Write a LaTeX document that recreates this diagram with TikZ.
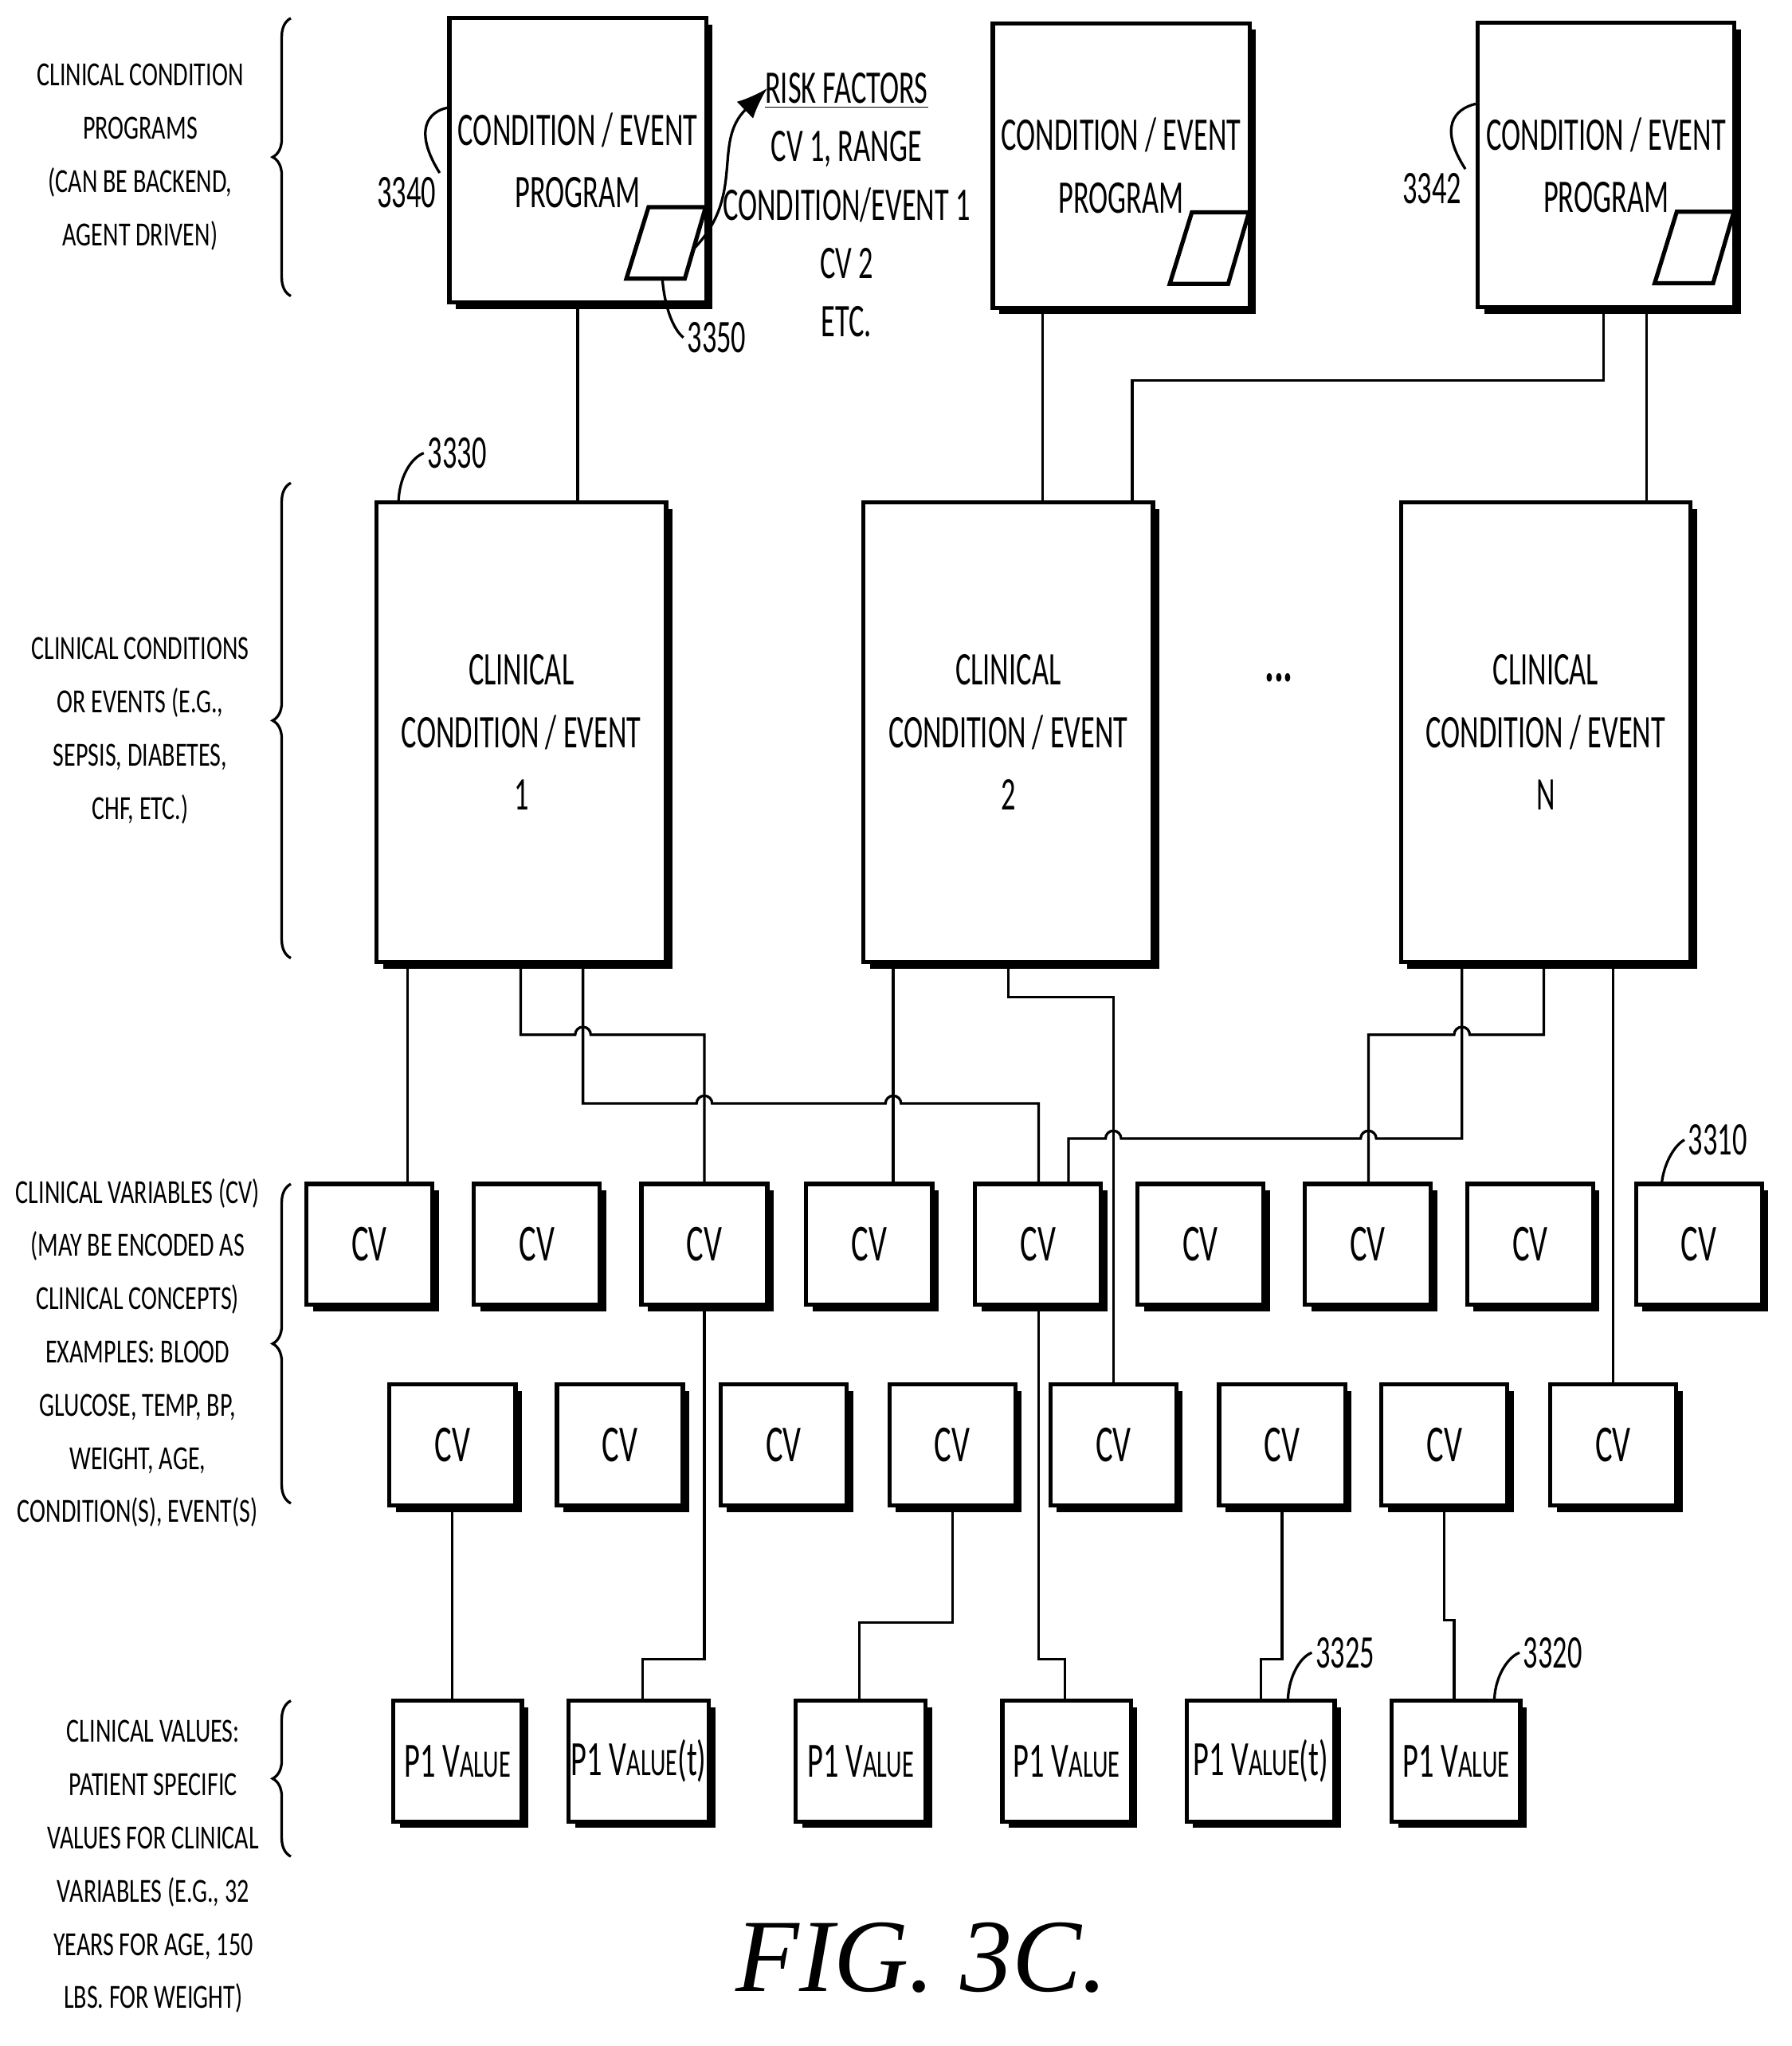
\documentclass[tikz,border=0pt]{standalone}
\usepackage{fontspec}
\setmainfont{Carlito}[FakeStretch=0.62]
\newfontfamily\lblfont{Carlito}[FakeStretch=0.71]
\newfontfamily\figfont{Liberation Serif}
\usetikzlibrary{arrows.meta}
\usetikzlibrary{positioning}
\usetikzlibrary{shadows}
\usetikzlibrary{decorations.pathreplacing}

\begin{document}
\begin{tikzpicture}[x=0.5pt,y=-0.5pt,line width=1pt,
		blk/.style={draw,line width=1.6pt,fill=white,align=center,
			drop shadow={shadow xshift=2.5pt,shadow yshift=-2.5pt,opacity=1,fill=black}},
		prog/.style={blk,minimum width=98pt,minimum height=109.5pt,font=\fontsize{18}{24}\selectfont},
		clin/.style={blk,minimum width=111.5pt,minimum height=177pt,font=\fontsize{18}{24}\selectfont},
		cv/.style={blk,minimum width=48.5pt,minimum height=46.5pt,font=\fontsize{20}{22}\selectfont},
		val/.style={blk,minimum height=46.5pt,inner sep=1pt,font=\fontsize{19}{22}\selectfont},
		side/.style={align=center,font=\lblfont\fontsize{13}{20.5}\selectfont},
		refnum/.style={font=\fontsize{18}{20}\selectfont,inner sep=1pt},
		lead/.style={line width=1pt},
		curly/.style={decorate,decoration={brace,amplitude=7pt},line width=1pt}]
		\useasboundingbox (0,0) rectangle (1380,1576);
		
		% Condition / event programs
		\node[prog] (prog1) at (445,123.5) {CONDITION / EVENT\\PROGRAM};
		\node[prog] (prog2) at (863.5,127.5) {CONDITION / EVENT\\PROGRAM};
		\node[prog] (prog3) at (1237,127) {CONDITION / EVENT\\PROGRAM};
		\foreach \p in {prog1,prog2,prog3}
		\draw[line width=1.6pt,fill=white,shift={(\p.south east)}] (-63,-20) -- (-46,-75) -- (-2,-75) -- (-18,-20) -- cycle;
		
		% Clinical conditions
		\node[clin] (c1) at (401.5,564) {CLINICAL\\CONDITION / EVENT\\1};
		\node[clin] (c2) at (776.5,564) {CLINICAL\\CONDITION / EVENT\\2};
		\node[clin] (cn) at (1190.5,564) {CLINICAL\\CONDITION / EVENT\\N};
		\node[font=\fontsize{22}{22}\selectfont\bfseries] (dots) at (985,522) {...};
		
		% Clinical variables
		\foreach \x [count=\i] in {284.5,413.5,542.5,669.5,799.5,924.5,1053.5,1178.5,1308.5}
		\node[cv] (cva\i) at (\x,958.5) {CV};
		\foreach \x [count=\i] in {348.5,477.5,603.5,733.5,857.5,987.5,1112.5,1242.5}
		\node[cv] (cvb\i) at (\x,1113) {CV};
		
		% Clinical values
		\node[val,minimum width=49.5pt] (v1) at (352.5,1356.5) {P1 V{\fontsize{15}{20}\selectfont ALUE}};
		\node[val,minimum width=54pt] (v2) at (492,1356.5) {P1 V{\fontsize{15}{20}\selectfont ALUE}(t)};
		\node[val,minimum width=50pt] (v3) at (663,1356.5) {P1 V{\fontsize{15}{20}\selectfont ALUE}};
		\node[val,minimum width=49.5pt] (v4) at (821.5,1356.5) {P1 V{\fontsize{15}{20}\selectfont ALUE}};
		\node[val,minimum width=57pt] (v5) at (971,1356.5) {P1 V{\fontsize{15}{20}\selectfont ALUE}(t)};
		\node[val,minimum width=49.5pt] (v6) at (1121.5,1356.5) {P1 V{\fontsize{15}{20}\selectfont ALUE}};
		
		% programs to conditions
		\draw (prog1.south) -- (c1.north -| prog1.south);
		\draw (prog2.south -| 803,0) -- (c2.north -| 803,0);
		\draw (prog3.south -| 1235,0) -- (1235,293) -- (872,293) -- (c2.north -| 872,0);
		\draw (prog3.south -| 1268,0) -- (cn.north -| 1268,0);
		
		% conditions to variables
		\draw (c1.south -| 314,0) -- (cva1.north -| 314,0);
		\draw (c1.south -| 401,0) -- (401,797) -- (443,797) arc[start angle=180,end angle=360,radius=6] -- (542.5,797) -- (cva3.north);
		\draw (c1.south -| 449,0) -- (449,850) -- (536.5,850) arc[start angle=180,end angle=360,radius=6] -- (682,850) arc[start angle=180,end angle=360,radius=6] -- (800,850) -- (cva5.north -| 800,0);
		\draw (c2.south -| 688,0) -- (cva4.north -| 688,0);
		\draw (c2.south) -- (776.5,768) -- (857.5,768) -- (cvb5.north);
		\draw (cn.south -| 1189,0) -- (1189,797) -- (1132,797) arc[start angle=0,end angle=-180,radius=6] -- (1054,797) -- (cva7.north -| 1054,0);
		\draw (cn.south -| 1126,0) -- (1126,877) -- (1060,877) arc[start angle=0,end angle=-180,radius=6] -- (863.5,877) arc[start angle=0,end angle=-180,radius=6] -- (823,877) -- (cva5.north -| 823,0);
		\draw (cn.south -| 1242.5,0) -- (cvb8.north);
		
		% variables to values
		\draw (cva3.south) -- (542.5,1278) -- (495,1278) -- (v2.north -| 495,0);
		\draw (cva5.south -| 800,0) -- (800,1278) -- (820,1278) -- (v4.north -| 820,0);
		\draw (cvb1.south) -- (v1.north -| cvb1.south);
		\draw (cvb4.south) -- (733.5,1250) -- (662,1250) -- (v3.north -| 662,0);
		\draw (cvb6.south) -- (987.5,1278) -- (971,1278) -- (v5.north);
		\draw (cvb7.south) -- (1112.5,1248) -- (1120,1248) -- (v6.north -| 1120,0);
		
		% risk factors
		\node[align=center,font=\fontsize{18}{22.5}\selectfont] (risk) at (652,158) {\underline{RISK FACTORS}\\CV 1, RANGE\\CONDITION/EVENT 1\\CV 2\\ETC.};
		\coordinate (tag) at (534,192);
		\draw[-{Latex[length=12pt,width=9pt]}] (tag) .. controls (575,150) and (548,110) .. (591,68);
		
		% reference numbers
		\node[refnum] (n3340) at (313,148) {3340};
		\draw[lead] (n3340.north east) .. controls (318,100) and (330,86) .. (prog1.west |- 0,83);
		\node[refnum] (n3350) at (552,260) {3350};
		\draw[lead] (n3350.west) .. controls (520,255) and (512,240) .. (510,213);
		\node[refnum] (n3342) at (1103,145) {3342};
		\draw[lead] (n3342.north east) .. controls (1108,98) and (1120,84) .. (prog3.west |- 0,80);
		\node[refnum] (n3330) at (352,349) {3330};
		\draw[lead] (n3330.west) .. controls (318,352) and (308,365) .. (c1.north -| 307,0);
		\node[refnum] (n3310) at (1323,878) {3310};
		\draw[lead] (n3310.west) .. controls (1290,882) and (1282,895) .. (cva9.north -| 1280,0);
		\node[refnum] (n3325) at (1036,1273) {3325};
		\draw[lead] (n3325.west) .. controls (1002,1276) and (993,1290) .. (v5.north -| 992,0);
		\node[refnum] (n3320) at (1196,1273) {3320};
		\draw[lead] (n3320.west) .. controls (1162,1276) and (1152,1290) .. (v6.north -| 1151,0);
		
		% row labels
		\node[side] (lab1) at (108,121) {CLINICAL CONDITION\\PROGRAMS\\(CAN BE BACKEND,\\AGENT DRIVEN)};
		\node[side] (lab2) at (108,563) {CLINICAL CONDITIONS\\OR EVENTS (E.G.,\\SEPSIS, DIABETES,\\CHF, ETC.)};
		\node[side] (lab3) at (106,1042) {CLINICAL VARIABLES (CV)\\(MAY BE ENCODED AS\\CLINICAL CONCEPTS)\\EXAMPLES: BLOOD\\GLUCOSE, TEMP, BP,\\WEIGHT, AGE,\\CONDITION(S), EVENT(S)};
		\node[side] (lab4) at (118,1438) {CLINICAL VALUES:\\PATIENT SPECIFIC\\VALUES FOR CLINICAL\\VARIABLES (E.G., 32\\YEARS FOR AGE, 150\\LBS. FOR WEIGHT)};
		\draw[curly] (224,228) -- (224,14);
		\draw[curly] (224,738) -- (224,372);
		\draw[curly] (224,1158) -- (224,912);
		\draw[curly] (224,1430) -- (224,1310);
		
		\node[font=\figfont\itshape\fontsize{40}{40}\selectfont] (fig) at (710,1508) {FIG. 3C.};
	\end{tikzpicture}
\end{document}
